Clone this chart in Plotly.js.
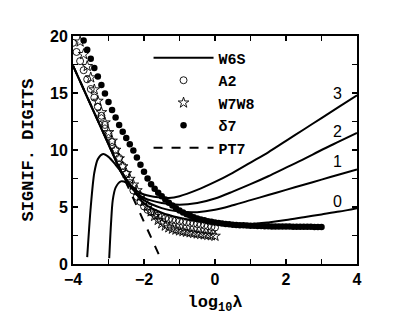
<!DOCTYPE html>
<html>
<head>
<meta charset="utf-8">
<script src="https://cdn.plot.ly/plotly-3.0.1.min.js"></script>
<style>html,body{margin:0;padding:0;background:#fff;}#chart{width:415px;height:318px;}</style>
</head>
<body>
<div id="chart"></div>
<script>
// ---- data ----
const a2X = [-4.0,-3.9,-3.8,-3.7,-3.6,-3.5,-3.4,-3.3,-3.2,-3.1,-3.0,-2.9,-2.8,-2.7,-2.6,-2.5,-2.4,-2.3,-2.2,-2.1,-2.0,-1.9,-1.8,-1.7,-1.6,-1.5,-1.4,-1.3,-1.2,-1.1,-1.0,-0.9,-0.8,-0.7,-0.6,-0.5,-0.4,-0.3,-0.2,-0.1,0.0];
const a2Y = [19.4,18.6,17.8,17.0,16.2,15.35,14.6,13.8,13.0,12.2,11.4,10.7,10.0,9.3,8.6,7.9,7.1,6.45,5.9,5.45,5.05,4.75,4.55,4.4,4.25,4.12,4.02,3.95,3.88,3.82,3.76,3.7,3.65,3.6,3.55,3.5,3.45,3.38,3.32,3.26,3.2];

const w7w8X = [-3.8,-3.7,-3.6,-3.5,-3.4,-3.3,-3.2,-3.1,-3.0,-2.9,-2.8,-2.7,-2.6,-2.5,-2.4,-2.3,-2.2,-2.1,-2.0,-1.9,-1.8,-1.7,-1.6,-1.5,-1.4,-1.3,-1.2,-1.1,-1.0,-0.9,-0.8,-0.7,-0.6,-0.5,-0.4,-0.3,-0.2,-0.1,0.0];
const w7w8Y = [19.5,18.4,17.35,16.35,15.3,14.3,13.3,12.4,11.55,10.8,10.0,9.25,8.55,7.95,7.45,6.95,6.45,5.95,5.5,5.05,4.6,4.2,3.85,3.55,3.35,3.2,3.08,3.0,2.93,2.87,2.81,2.76,2.71,2.66,2.62,2.58,2.54,2.5,2.46];

const d7X = [-3.7,-3.6,-3.5,-3.4,-3.3,-3.2,-3.1,-3.0,-2.9,-2.8,-2.7,-2.6,-2.5,-2.4,-2.3,-2.2,-2.1,-2.0,-1.9,-1.8,-1.7,-1.6,-1.5,-1.4,-1.3,-1.2,-1.1,-1.0,-0.9,-0.8,-0.7,-0.6,-0.5,-0.4,-0.3,-0.2,-0.1,0.0,0.1,0.2,0.3,0.4,0.5,0.6,0.7,0.8,0.9,1.0,1.1,1.2,1.3,1.4,1.5,1.6,1.7,1.8,1.9,2.0,2.1,2.2,2.3,2.4,2.5,2.6,2.7,2.8,2.9,3.0];
const d7Y = [19.6,18.8,18.0,17.2,16.45,15.7,14.95,14.2,13.5,12.85,12.2,11.6,11.05,10.5,9.95,9.35,8.7,8.1,7.5,7.0,6.6,6.25,5.95,5.65,5.38,5.13,4.9,4.7,4.52,4.37,4.23,4.11,4.0,3.91,3.83,3.76,3.7,3.64,3.59,3.55,3.51,3.48,3.45,3.43,3.41,3.39,3.37,3.36,3.35,3.34,3.33,3.32,3.31,3.3,3.3,3.29,3.29,3.28,3.28,3.27,3.27,3.27,3.26,3.26,3.26,3.25,3.25,3.25];

const pt7X = [-4.0,-2.75,-1.49];
const pt7Y = [17.4,8.8,0.2];

const w6s3X = [-4,-3.5,-3.0,-2.6,-2.4,-2.2,-2.0,-1.6,-1.3,-1.0,-0.5,0,0.5,1,1.5,2,2.5,3,3.5,4];
const w6s3Y = [17.4,13.95,10.5,7.8,6.95,6.4,6.1,5.85,5.8,5.95,6.5,7.2,8.0,8.9,9.8,10.8,11.8,12.8,13.8,14.8];
const w6s2X = [-4,-3.5,-3.0,-2.6,-2.4,-2.2,-2.0,-1.5,-1.0,-0.5,0,0.5,1,1.5,2,2.5,3,3.5,4];
const w6s2Y = [17.4,13.95,10.5,7.8,6.85,6.2,5.8,5.35,5.2,5.35,5.75,6.35,7.0,7.7,8.45,9.2,10.0,10.75,11.5];
const w6s1X = [-3.6,-3.5,-3.4,-3.3,-3.15,-3.0,-2.8,-2.6,-2.4,-2.2,-2.0,-1.5,-1.0,-0.5,0,0.5,1,1.5,2,2.5,3,3.5,4];
const w6s1Y = [0.6,5.0,8.0,9.2,9.65,9.4,8.7,7.9,7.0,6.2,5.6,4.9,4.6,4.55,4.75,5.15,5.6,6.05,6.5,6.95,7.4,7.85,8.3];
const w6s0X = [-2.98,-2.93,-2.88,-2.8,-2.65,-2.5,-2.35,-2.2,-2.0,-1.5,-1.0,-0.5,0,0.5,1,1.5,2,2.5,3,3.5,4];
const w6s0Y = [0.5,3.5,5.6,6.7,7.25,7.15,6.8,6.1,5.3,4.5,4.05,3.75,3.6,3.5,3.5,3.65,3.85,4.1,4.35,4.6,4.9];

const curveLabels = ['3','2','1','0'];
const curveLabelX = [3.45,3.45,3.45,3.45];
const curveLabelY = [15.0,11.65,8.95,5.45];

const seriesNames = ['W6S','A2','W7W8','\u03b47','PT7'];
const xTitle = 'log<sub>10</sub>\u03bb';
const yTitle = 'SIGNIF. DIGITS';

// ---- traces ----
const mono = 'Liberation Mono';
const sans = 'Liberation Sans';
const lineW = 2;

const traces = [];
traces.push({x:a2X, y:a2Y, mode:'markers', name:seriesNames[1], legendrank:2,
  marker:{symbol:'circle-open', size:7, color:'#000', line:{width:0.9, color:'#000'}}});
traces.push({x:w7w8X, y:w7w8Y, mode:'markers', name:seriesNames[2], legendrank:3,
  marker:{symbol:'star-open', size:8, color:'#000', line:{width:0.9, color:'#000'}}});
traces.push({x:d7X, y:d7Y, mode:'markers', name:seriesNames[3], legendrank:4,
  marker:{symbol:'circle', size:6.5, color:'#000'}});
traces.push({x:pt7X, y:pt7Y, mode:'lines', name:seriesNames[4], legendrank:5,
  line:{color:'#000', width:lineW, dash:'dash'}});
const w6s = [[w6s3X,w6s3Y],[w6s2X,w6s2Y],[w6s1X,w6s1Y],[w6s0X,w6s0Y]];
w6s.forEach((c,i)=>{
  traces.push({x:c[0], y:c[1], mode:'lines', name:seriesNames[0], legendrank:1,
    showlegend:i===0, line:{color:'#000', width:lineW, shape:'spline', smoothing:0.8}});
});

const annotations = curveLabels.map((t,i)=>({x:curveLabelX[i], y:curveLabelY[i], xref:'x', yref:'y',
  text:t, showarrow:false, font:{family:sans, size:16, color:'#000'}}));

const axisCommon = {showline:true, linewidth:2, linecolor:'#000', mirror:'allticks', ticks:'inside',
  ticklen:5, tickwidth:1.5, tickcolor:'#000', showgrid:false, zeroline:false,
  tickfont:{family:sans, size:16, color:'#000', weight:'bold'}};

const layout = {
  width:415, height:318,
  margin:{l:73, r:58, t:36, b:54},
  paper_bgcolor:'#fff', plot_bgcolor:'#fff',
  font:{family:mono},
  showlegend:true,
  legend:{x:0.266, y:0.976, xanchor:'left', yanchor:'top', bgcolor:'rgba(0,0,0,0)',
    font:{family:mono, size:15, color:'#000', weight:'bold'}, itemwidth:60, tracegroupgap:0},
  xaxis:Object.assign({}, axisCommon, {range:[-4,4], tickmode:'linear', tick0:-4, dtick:2,
    minor:{dtick:1, ticks:'inside', ticklen:5, tickwidth:1.5, tickcolor:'#000'},
    title:{text:xTitle, font:{family:mono, size:17, color:'#000', weight:'bold'}, standoff:8}}),
  yaxis:Object.assign({}, axisCommon, {range:[0,20], tickmode:'linear', tick0:0, dtick:5,
    minor:{dtick:2.5, ticks:'inside', ticklen:5, tickwidth:1.5, tickcolor:'#000'},
    title:{text:yTitle, font:{family:mono, size:17, color:'#000', weight:'bold'}, standoff:12}}),
  annotations:annotations
};

Plotly.newPlot('chart', traces, layout, {staticPlot:true, displayModeBar:false});
</script>
</body>
</html>
